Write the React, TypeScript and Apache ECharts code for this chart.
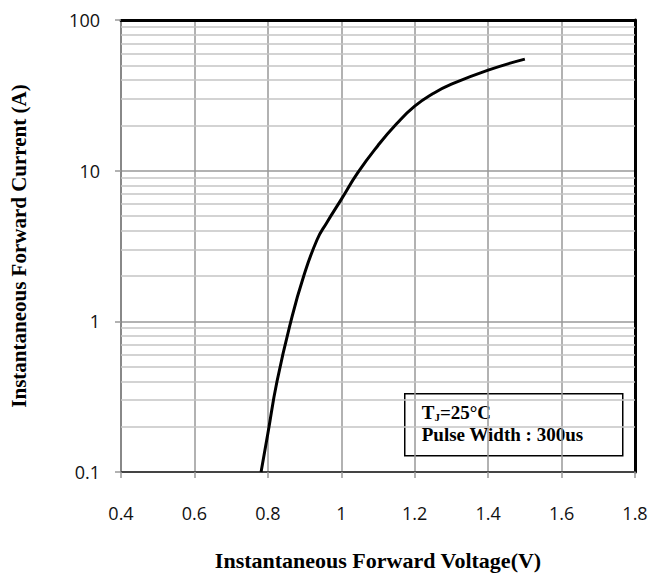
import React, { useEffect, useRef } from "react";
import * as echarts from "echarts";

const voltage = [0.7815, 0.8, 0.825, 0.8627, 0.8975, 0.934, 0.96, 1.0, 1.045, 1.1, 1.15, 1.2, 1.25, 1.3, 1.4, 1.5];
const current = [0.1, 0.18, 0.4, 1.0, 1.99, 3.48, 4.5, 6.45, 9.7, 14.7, 20.4, 26.8, 32.5, 37.5, 46.5, 55];
const minorGridValues = [
  0.2, 0.3, 0.4, 0.5, 0.6, 0.7, 0.8, 0.9,
  2, 3, 4, 5, 6, 7, 8, 9,
  20, 30, 40, 50, 60, 70, 80, 90,
];
const xTitle = "Instantaneous Forward Voltage(V)";
const yTitle = "Instantaneous Forward Current (A)";

export default function App() {
  const ref = useRef<HTMLDivElement>(null);
  useEffect(() => {
    if (!ref.current) return;
    const chart = echarts.init(ref.current, undefined, { renderer: "svg" });
    const serif = "'Liberation Serif', 'Times New Roman', serif";
    const sans = "'Open Sans', 'Noto Sans', sans-serif";
    chart.setOption({
      animation: false,
      backgroundColor: "#ffffff",
      grid: { left: 120, top: 20, right: 17, bottom: 105, containLabel: false },
      xAxis: [
        {
          type: "value",
          min: 0.4,
          max: 1.8,
          interval: 0.2,
          name: xTitle,
          nameLocation: "middle",
          nameGap: 77,
          nameTextStyle: { fontFamily: serif, fontWeight: "bold", fontSize: 22, color: "#000" },
          axisLine: { show: true, onZero: false, lineStyle: { color: "#444", width: 2 } },
          axisTick: { show: true, length: 6, lineStyle: { color: "#999", width: 1.5 } },
          axisLabel: {
            margin: 32,
            fontFamily: sans,
            fontSize: 18,
            color: "#111",
            formatter: (v: number) => String(+v.toFixed(1)),
          },
          splitLine: { show: true, lineStyle: { color: "#999", width: 1.5 } },
        },
        {
          type: "value",
          position: "top",
          min: 0.4,
          max: 1.8,
          interval: 0.2,
          axisLine: { show: true, lineStyle: { color: "#000", width: 3 } },
          axisTick: { show: false },
          axisLabel: { show: false },
          splitLine: { show: false },
        },
      ],
      yAxis: [
        {
          type: "log",
          logBase: 10,
          min: 0.1,
          max: 100,
          name: yTitle,
          nameLocation: "middle",
          nameGap: 92,
          nameTextStyle: { fontFamily: serif, fontWeight: "bold", fontSize: 21, color: "#000" },
          axisLine: { show: true, onZero: false, lineStyle: { color: "#888", width: 2 } },
          axisTick: { show: true, length: 6, lineStyle: { color: "#999", width: 1.5 } },
          axisLabel: {
            margin: 21,
            fontFamily: sans,
            fontSize: 18,
            color: "#111",
            formatter: (v: number) => String(+v.toPrecision(3)),
          },
          splitLine: { show: true, lineStyle: { color: "#999", width: 1.5 } },
        },
        {
          type: "log",
          logBase: 10,
          min: 0.1,
          max: 100,
          position: "right",
          axisLine: { show: true, lineStyle: { color: "#000", width: 3 } },
          axisTick: { show: false },
          axisLabel: { show: false },
          splitLine: { show: false },
        },
      ],
      series: [
        {
          type: "line",
          z: 1,
          data: [[0.4, 0.1]],
          symbol: "none",
          silent: true,
          lineStyle: { opacity: 0 },
          markLine: {
            silent: true,
            z: 1,
            symbol: ["none", "none"],
            label: { show: false },
            lineStyle: { color: "#c4c4c4", width: 1.5, type: "solid" },
            data: minorGridValues.map((v) => ({ yAxis: v })),
          },
        },
        {
          type: "line",
          z: 5,
          data: voltage.map((v, i) => [v, current[i]]),
          smooth: 0.5,
          symbol: "none",
          lineStyle: { color: "#000", width: 3 },
        },
      ],
      graphic: [
        {
          type: "group",
          left: 404,
          top: 393,
          z: 100,
          children: [
            {
              type: "rect",
              shape: { x: 0, y: 0, width: 218, height: 62 },
              style: { fill: "#fff", stroke: "#000", lineWidth: 1.5 },
            },
            {
              type: "text",
              x: 17,
              y: 8,
              style: {
                text: "{a|T}{s|J}{a|=25°C}",
                rich: {
                  a: { fontFamily: serif, fontWeight: "bold", fontSize: 19, fill: "#000", lineHeight: 22 },
                  s: { fontFamily: serif, fontWeight: "bold", fontSize: 11, fill: "#000", lineHeight: 22, padding: [9, 0, 0, 0] },
                },
              },
            },
            {
              type: "text",
              x: 17,
              y: 31,
              style: {
                text: "Pulse Width : 300us",
                fontFamily: serif,
                fontWeight: "bold",
                fontSize: 19,
                fill: "#000",
              },
            },
          ],
        },
      ],
    });
    return () => chart.dispose();
  }, []);
  return (
    <div
      ref={ref}
      style={{ position: "absolute", left: 0, top: 0, width: 652, height: 577 }}
    />
  );
}
